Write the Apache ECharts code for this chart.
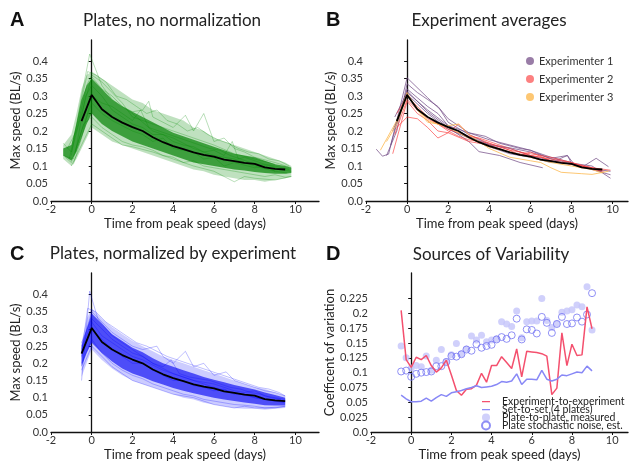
<!DOCTYPE html>
<html>
<head>
<meta charset="utf-8">
<script src="https://cdn.jsdelivr.net/npm/echarts@6/dist/echarts.min.js"></script>
<style>
  html, body { margin: 0; padding: 0; background: #fff; }
  #chart { width: 629px; height: 462px; }
</style>
</head>
<body>
<div id="chart"></div>
<script>
// ---- data ----
const xTicks = [-2, 0, 2, 4, 6, 8, 10]
const speedTicks = [0, 0.05, 0.1, 0.15, 0.2, 0.25, 0.3, 0.35, 0.4]
const cvTicks = [0, 0.025, 0.05, 0.075, 0.1, 0.125, 0.15, 0.175, 0.2, 0.225]

// overall mean (black line, same in A, B, C)
const meanTime = [-0.5, 0, 0.5, 1, 1.5, 2, 2.5, 3, 3.5, 4, 4.5, 5, 5.5, 6, 6.5, 7, 7.5, 8, 8.5, 9, 9.5]
const meanSpeed = [0.228, 0.303, 0.262, 0.240, 0.224, 0.211, 0.200, 0.182, 0.168, 0.157, 0.148, 0.139, 0.132, 0.127, 0.118, 0.114, 0.109, 0.106, 0.096, 0.092, 0.090]

// panel A: spread of the plate curves (outer envelope and dense core)
const bandTimeA = [-1.4, -1, -0.75, -0.5, -0.25, 0, 0.5, 1, 1.5, 2, 2.5, 3, 3.5, 4, 4.5, 5, 5.5, 6, 6.5, 7, 7.5, 8, 8.5, 9, 9.5, 9.8]
const outerLoA = [0.12, 0.10, 0.12, 0.15, 0.18, 0.21, 0.19, 0.17, 0.16, 0.15, 0.14, 0.13, 0.12, 0.11, 0.10, 0.09, 0.085, 0.075, 0.07, 0.065, 0.06, 0.06, 0.055, 0.06, 0.065, 0.07]
const outerHiA = [0.16, 0.19, 0.25, 0.32, 0.36, 0.37, 0.35, 0.33, 0.31, 0.29, 0.28, 0.26, 0.25, 0.24, 0.23, 0.21, 0.20, 0.18, 0.17, 0.16, 0.15, 0.14, 0.13, 0.12, 0.11, 0.10]
const innerLoA = [0.13, 0.115, 0.14, 0.18, 0.22, 0.25, 0.22, 0.20, 0.185, 0.17, 0.16, 0.15, 0.14, 0.13, 0.12, 0.11, 0.105, 0.10, 0.095, 0.09, 0.087, 0.083, 0.08, 0.078, 0.078, 0.08]
const innerHiA = [0.15, 0.16, 0.22, 0.29, 0.33, 0.35, 0.32, 0.29, 0.27, 0.255, 0.24, 0.225, 0.21, 0.195, 0.185, 0.175, 0.165, 0.155, 0.145, 0.135, 0.13, 0.125, 0.115, 0.105, 0.10, 0.095]
const platesA = [
  [[-1, 0.13], [-0.5, 0.3], [-0.1, 0.42], [0.5, 0.33], [1, 0.29], [2, 0.25], [3, 0.2], [4, 0.18], [5, 0.15], [6, 0.13], [7, 0.12], [8, 0.1], [9, 0.085]],
  [[-1.4, 0.165], [-1, 0.14], [-0.5, 0.25], [0, 0.355], [0.5, 0.32], [1, 0.3], [1.5, 0.27], [2, 0.255], [2.5, 0.26], [2.8, 0.285], [3, 0.24], [3.5, 0.225], [4, 0.21], [4.6, 0.245], [5, 0.2], [5.5, 0.25], [6, 0.17], [6.5, 0.18], [7, 0.15], [7.5, 0.14], [8, 0.125], [9, 0.11], [9.8, 0.095]],
  [[-1, 0.1], [-0.5, 0.16], [0, 0.22], [0.5, 0.2], [1, 0.18], [1.5, 0.16], [2, 0.155], [3, 0.14], [4, 0.12], [5, 0.1], [6, 0.085], [6.5, 0.07], [7, 0.055], [7.5, 0.07], [8, 0.065], [9, 0.06], [9.8, 0.07]],
  [[-1.3, 0.125], [-1, 0.11], [-0.5, 0.2], [0, 0.28], [0.5, 0.25], [1, 0.23], [2, 0.2], [2.5, 0.19], [3, 0.17], [3.5, 0.18], [4, 0.15], [5, 0.14], [5.5, 0.12], [6, 0.125], [6.5, 0.1], [7, 0.11], [8, 0.095], [8.5, 0.1], [9, 0.085], [9.6, 0.08]],
  [[-0.8, 0.14], [-0.3, 0.3], [0, 0.33], [0.5, 0.3], [1, 0.26], [1.5, 0.24], [2, 0.22], [2.5, 0.21], [3, 0.19], [3.5, 0.19], [4, 0.17], [4.5, 0.16], [5, 0.155], [5.5, 0.14], [6, 0.145], [6.5, 0.13], [6.9, 0.17], [7.2, 0.12], [7.5, 0.125], [8, 0.115], [8.5, 0.105], [9, 0.1], [9.7, 0.09]],
  [[-1.2, 0.15], [-0.75, 0.2], [-0.25, 0.33], [0, 0.36], [0.5, 0.34], [1, 0.31], [1.5, 0.28], [2, 0.24], [3, 0.22], [4, 0.2], [5, 0.18], [6, 0.16], [7, 0.135], [8, 0.12], [9, 0.105]],
  [[-1.1, 0.12], [-0.6, 0.26], [-0.2, 0.37], [0.2, 0.36], [0.7, 0.34], [1.2, 0.3], [1.7, 0.29], [2.2, 0.27], [2.7, 0.25], [3.2, 0.26], [3.7, 0.23], [4.2, 0.22], [4.7, 0.2], [5.2, 0.21], [5.7, 0.19], [6.2, 0.175], [6.7, 0.165], [7.2, 0.15], [7.7, 0.14], [8.2, 0.135], [8.7, 0.12], [9.2, 0.115], [9.7, 0.1]],
  [[-1.4, 0.13], [-0.9, 0.12], [-0.4, 0.22], [0, 0.24], [0.5, 0.21], [1, 0.19], [1.5, 0.17], [2, 0.16], [2.5, 0.155], [3, 0.145], [3.5, 0.13], [4, 0.125], [4.5, 0.11], [5, 0.115], [5.5, 0.1], [6, 0.095], [6.5, 0.09], [7, 0.085], [7.5, 0.08], [8, 0.075], [8.5, 0.07], [9, 0.075], [9.5, 0.068], [9.8, 0.07]],
  [[-0.9, 0.105], [-0.5, 0.18], [0, 0.3], [0.5, 0.28], [1, 0.27], [1.5, 0.25], [2, 0.23], [2.4, 0.26], [2.8, 0.21], [3.3, 0.2], [3.8, 0.19], [4.3, 0.18], [4.8, 0.17], [5.3, 0.16], [5.8, 0.15], [6.3, 0.145], [6.8, 0.13], [7.3, 0.12], [7.8, 0.11], [8.3, 0.105], [8.8, 0.1], [9.3, 0.09], [9.8, 0.085]]
]

// panel B: experiment averages
const exp1Lines = [
  [[-1.5, 0.148], [-1.2, 0.128], [-0.9, 0.134], [0, 0.352], [1, 0.295], [1.6, 0.262], [2, 0.225], [3, 0.19], [4, 0.162], [5, 0.152], [6, 0.14], [7, 0.122], [7.8, 0.13], [8, 0.108], [9, 0.1], [9.9, 0.065]],
  [[-1, 0.13], [-0.5, 0.2], [0, 0.335], [0.5, 0.31], [1, 0.29], [1.5, 0.27], [2, 0.235], [2.5, 0.215], [3, 0.195], [4, 0.175], [5, 0.16], [6, 0.145], [7, 0.125], [8, 0.11], [8.5, 0.096], [9.2, 0.122], [9.8, 0.098]],
  [[-0.8, 0.16], [0, 0.32], [0.5, 0.295], [1, 0.27], [1.5, 0.25], [2, 0.215], [3, 0.185], [4, 0.16], [5, 0.15], [6, 0.13], [7, 0.115], [8, 0.105], [9, 0.09], [9.9, 0.075]],
  [[-0.5, 0.22], [0, 0.315], [1, 0.255], [2, 0.21], [3, 0.17], [3.5, 0.141], [4.5, 0.13], [5.5, 0.11], [6.6, 0.095]],
  [[-0.6, 0.24], [0, 0.31], [1, 0.26], [2, 0.215], [3, 0.195], [3.8, 0.185], [4.5, 0.165], [5.5, 0.15], [6, 0.145], [7, 0.12], [7.8, 0.11], [8.5, 0.1], [9.5, 0.085]],
  [[-0.7, 0.2], [0, 0.305], [1, 0.25], [2, 0.205], [3, 0.18], [4, 0.155], [5, 0.135], [6, 0.125], [7, 0.11], [7.8, 0.13], [8.2, 0.1], [9, 0.092], [9.9, 0.085]]
]
const exp2Lines = [
  [[-0.7, 0.135], [0, 0.285], [0.5, 0.25], [1, 0.23], [1.5, 0.2], [2, 0.195], [2.5, 0.22], [3, 0.19], [4, 0.165], [5, 0.145], [5.5, 0.13], [6, 0.14], [7, 0.115], [8, 0.105], [9, 0.095], [9.9, 0.088]],
  [[-0.5, 0.21], [0, 0.24], [0.5, 0.235], [1, 0.21], [1.5, 0.18], [2, 0.195], [3, 0.17], [4, 0.16], [5, 0.14], [6, 0.13], [7, 0.12], [8, 0.11], [9, 0.09], [9.6, 0.085]],
  [[-0.6, 0.19], [0, 0.29], [0.5, 0.26], [1, 0.235], [2, 0.205], [3, 0.185], [3.5, 0.18], [4, 0.17], [5, 0.15], [6, 0.13], [6.5, 0.125], [7, 0.115], [8, 0.105], [9, 0.095], [9.5, 0.085]],
  [[-0.5, 0.25], [0, 0.3], [0.5, 0.27], [1, 0.24], [2, 0.2], [2.5, 0.185], [3, 0.175], [4, 0.165], [5, 0.145], [6, 0.135], [7, 0.125], [8, 0.11], [9, 0.095], [9.5, 0.09]]
]
const exp3Lines = [
  [[-1.3, 0.145], [-0.5, 0.23], [0, 0.31], [0.5, 0.26], [1, 0.225], [2, 0.215], [2.5, 0.22], [3, 0.19], [4, 0.15], [5, 0.125], [6, 0.115], [6.5, 0.11], [7, 0.095], [7.5, 0.082], [8.5, 0.078], [9, 0.076], [9.8, 0.085]],
  [[-1, 0.17], [-0.5, 0.22], [0, 0.3], [0.5, 0.265], [1, 0.23], [2, 0.21], [3, 0.18], [4, 0.155], [5, 0.14], [6, 0.125], [7, 0.11], [8, 0.1], [9, 0.09], [9.5, 0.08]]
]

// panel C: normalized plate curves
const bandTimeC = [-0.5, -0.25, 0, 0.5, 1, 1.5, 2, 2.5, 3, 3.5, 4, 4.5, 5, 5.5, 6, 6.5, 7, 7.5, 8, 8.5, 9, 9.5]
const outerLoC = [0.16, 0.20, 0.24, 0.21, 0.185, 0.165, 0.15, 0.14, 0.13, 0.12, 0.11, 0.10, 0.095, 0.085, 0.08, 0.075, 0.07, 0.068, 0.068, 0.065, 0.068, 0.07]
const outerHiC = [0.26, 0.33, 0.36, 0.33, 0.305, 0.285, 0.265, 0.25, 0.235, 0.22, 0.21, 0.20, 0.19, 0.18, 0.17, 0.16, 0.15, 0.14, 0.13, 0.125, 0.115, 0.105]
const innerLoC = [0.19, 0.23, 0.26, 0.23, 0.205, 0.185, 0.17, 0.16, 0.148, 0.138, 0.128, 0.12, 0.113, 0.106, 0.10, 0.095, 0.09, 0.086, 0.082, 0.078, 0.077, 0.077]
const innerHiC = [0.25, 0.30, 0.345, 0.315, 0.285, 0.265, 0.245, 0.232, 0.215, 0.20, 0.19, 0.18, 0.17, 0.16, 0.152, 0.145, 0.137, 0.13, 0.124, 0.115, 0.108, 0.10]
const platesC = [
  [[-0.5, 0.15], [-0.1, 0.41], [0.3, 0.33], [1, 0.28], [2, 0.24], [3, 0.2], [4, 0.17], [5, 0.15], [6, 0.13], [7, 0.115], [8, 0.1], [9, 0.09], [9.5, 0.085]],
  [[-0.5, 0.25], [0, 0.35], [0.5, 0.32], [1, 0.29], [1.5, 0.27], [2, 0.25], [2.5, 0.24], [3.2, 0.25], [3.5, 0.22], [4, 0.2], [4.6, 0.235], [5, 0.19], [5.5, 0.2], [6, 0.165], [6.6, 0.175], [7, 0.15], [7.5, 0.14], [8, 0.13], [8.5, 0.12], [9, 0.115], [9.5, 0.105]],
  [[-0.5, 0.18], [0, 0.25], [0.5, 0.22], [1, 0.19], [1.5, 0.17], [2, 0.15], [2.5, 0.14], [3, 0.13], [3.5, 0.12], [4, 0.11], [5, 0.1], [6, 0.08], [6.5, 0.075], [7, 0.07], [7.5, 0.075], [8, 0.07], [9, 0.07], [9.5, 0.075]],
  [[-0.5, 0.22], [0, 0.3], [0.5, 0.27], [1, 0.24], [1.5, 0.22], [2, 0.2], [2.5, 0.2], [3, 0.18], [3.5, 0.165], [4, 0.15], [4.5, 0.15], [5, 0.135], [5.5, 0.13], [6, 0.12], [6.5, 0.125], [7, 0.11], [7.5, 0.11], [8, 0.1], [8.5, 0.095], [9, 0.09], [9.5, 0.088]],
  [[-0.5, 0.24], [0, 0.32], [0.5, 0.28], [1, 0.26], [1.5, 0.24], [2, 0.22], [2.5, 0.21], [3, 0.195], [3.5, 0.18], [4, 0.17], [4.5, 0.16], [5, 0.15], [5.5, 0.145], [6, 0.14], [6.5, 0.13], [7, 0.12], [7.5, 0.115], [8, 0.12], [8.5, 0.105], [9, 0.1], [9.5, 0.095]],
  [[-0.5, 0.23], [-0.2, 0.36], [0.2, 0.35], [0.7, 0.32], [1.2, 0.3], [1.7, 0.28], [2.2, 0.26], [2.7, 0.25], [3.2, 0.235], [3.7, 0.22], [4.2, 0.21], [4.7, 0.2], [5.2, 0.19], [5.7, 0.18], [6.2, 0.17], [6.7, 0.16], [7.2, 0.15], [7.7, 0.14], [8.2, 0.13], [8.7, 0.125], [9.2, 0.115], [9.5, 0.105]],
  [[-0.5, 0.2], [0, 0.27], [0.5, 0.23], [1, 0.2], [1.5, 0.18], [2, 0.165], [2.5, 0.155], [3, 0.14], [3.5, 0.13], [4, 0.12], [4.5, 0.11], [5, 0.105], [5.5, 0.095], [6, 0.09], [6.5, 0.085], [7, 0.08], [7.5, 0.078], [8, 0.075], [8.5, 0.07], [9, 0.072], [9.5, 0.074]],
  [[-0.5, 0.26], [0, 0.33], [0.5, 0.3], [1, 0.27], [1.5, 0.25], [2, 0.23], [2.5, 0.22], [3, 0.2], [3.5, 0.19], [3.9, 0.21], [4.3, 0.17], [4.8, 0.16], [5.3, 0.155], [5.8, 0.15], [6.3, 0.14], [6.8, 0.13], [7.3, 0.125], [7.8, 0.115], [8.3, 0.11], [8.8, 0.1], [9.3, 0.095]]
]

// panel D: coefficient of variation
const cvTime = [-0.5, -0.25, 0, 0.25, 0.5, 0.75, 1, 1.25, 1.5, 1.75, 2, 2.25, 2.5, 2.75, 3, 3.25, 3.5, 3.75, 4, 4.25, 4.5, 4.75, 5, 5.25, 5.5, 5.75, 6, 6.25, 6.5, 6.75, 7, 7.25, 7.5, 7.75, 8, 8.25, 8.5, 8.75, 9]
const expCv = [0.205, 0.122, 0.109, 0.126, 0.122, 0.129, 0.112, 0.101, 0.108, 0.121, 0.096, 0.070, 0.062, 0.072, 0.073, 0.079, 0.099, 0.084, 0.112, 0.112, 0.127, 0.117, 0.107, 0.140, 0.093, 0.136, 0.135, 0.134, 0.132, 0.128, 0.063, 0.074, 0.167, 0.112, 0.148, 0.129, 0.130, 0.211, 0.174]
const setCv = [0.062, 0.056, 0.051, 0.051, 0.052, 0.057, 0.052, 0.058, 0.063, 0.060, 0.066, 0.068, 0.070, 0.073, 0.075, 0.078, 0.075, 0.076, 0.077, 0.080, 0.085, 0.084, 0.086, 0.098, 0.080, 0.089, 0.089, 0.088, 0.104, 0.089, 0.086, 0.089, 0.096, 0.095, 0.098, 0.101, 0.100, 0.111, 0.103]
const plateCv = [0.145, 0.125, 0.108, 0.112, 0.110, 0.128, 0.104, 0.121, 0.139, 0.119, 0.130, 0.149, 0.132, 0.140, 0.162, 0.155, 0.163, 0.152, 0.155, 0.157, 0.186, 0.182, 0.178, 0.204, 0.159, 0.186, 0.187, 0.187, 0.225, 0.188, 0.176, 0.183, 0.202, 0.204, 0.206, 0.214, 0.211, 0.245, 0.172]
const noiseCv = [0.102, 0.1035, 0.093, 0.098, 0.100, 0.101, 0.102, 0.111, 0.111, 0.118, 0.128, 0.127, 0.131, 0.139, 0.137, 0.148, 0.142, 0.145, 0.147, 0.156, 0.160, 0.157, 0.163, 0.191, 0.156, 0.173, 0.172, 0.166, 0.194, 0.184, 0.167, 0.182, 0.194, 0.182, 0.183, 0.193, 0.186, 0.198, 0.234]

// ---- helpers ----
const FONT = 'Lato'
const pairs = (xs, ys) => xs.map((x, i) => [x, ys[i]])
// thin horizontal line icon for the legend (tiny corner specks keep the bbox square)
const LINE_ICON = 'path://M0,4.3h10v1.5h-10Z M0,0h0.01v0.01h-0.01Z M10,10h0.01v0.01h-0.01Z'

function xAxisFor(gridIndex, max) {
  return {
    type: 'value', gridIndex, min: -2, max,
    name: 'Time from peak speed (days)', nameLocation: 'middle', nameGap: 16,
    nameTextStyle: { fontFamily: FONT, fontSize: 13, color: '#222' },
    axisLine: { lineStyle: { color: '#111', width: 1.3 } },
    axisTick: { length: 3, customValues: xTicks, lineStyle: { color: '#111' } },
    axisLabel: { customValues: xTicks, margin: 3, fontFamily: FONT, fontSize: 11, color: '#333' },
    splitLine: { show: false }
  }
}
function yAxisFor(gridIndex, max, ticks, name, gap) {
  return {
    type: 'value', gridIndex, min: 0, max,
    name, nameLocation: 'middle', nameGap: gap,
    nameTextStyle: { fontFamily: FONT, fontSize: 13, color: '#222' },
    axisLine: { show: true, lineStyle: { color: '#111', width: 1.3 } },
    axisTick: { show: true, length: 3, customValues: ticks, lineStyle: { color: '#111' } },
    axisLabel: {
      customValues: ticks, margin: 3, fontFamily: FONT, fontSize: 11, color: '#333',
      formatter: v => (v === 0 ? '0.0' : String(v))
    },
    splitLine: { show: false }
  }
}
function thinLine(idx, data, color, width, name) {
  return {
    type: 'line', name, xAxisIndex: idx, yAxisIndex: idx, data,
    symbol: 'none', silent: true,
    itemStyle: { color },
    lineStyle: { color, width }
  }
}
// filled band between lo and hi, drawn as one polygon through the axes
function band(idx, xs, lo, hi, color) {
  return {
    type: 'custom', xAxisIndex: idx, yAxisIndex: idx, silent: true,
    data: xs.map((x, i) => [x, lo[i], hi[i]]),
    encode: { x: 0, y: [1, 2] },
    renderItem(params, api) {
      if (params.dataIndex !== 0) return null
      const top = xs.map((x, i) => api.coord([x, hi[i]]))
      const bottom = xs.map((x, i) => api.coord([x, lo[i]])).reverse()
      return { type: 'polygon', shape: { points: top.concat(bottom) }, style: { fill: color } }
    }
  }
}

const meanData = pairs(meanTime, meanSpeed)
const series = []

// A
series.push(band(0, bandTimeA, outerLoA, outerHiA, 'rgba(0,135,0,0.25)'))
series.push(band(0, bandTimeA, innerLoA, innerHiA, 'rgba(0,128,0,0.68)'))
platesA.forEach(p => series.push(thinLine(0, p, 'rgba(0,140,0,0.35)', 0.8)))
series.push(thinLine(0, meanData, '#000', 1.8))

// B
exp1Lines.forEach(p => series.push(thinLine(1, p, 'rgba(110,70,130,0.7)', 1, 'Experimenter 1')))
exp2Lines.forEach(p => series.push(thinLine(1, p, 'rgba(250,60,60,0.65)', 1, 'Experimenter 2')))
exp3Lines.forEach(p => series.push(thinLine(1, p, 'rgba(253,185,80,0.8)', 1, 'Experimenter 3')))
series.push(thinLine(1, meanData, '#000', 1.8))

// C
series.push(band(2, bandTimeC, outerLoC, outerHiC, 'rgba(0,0,255,0.2)'))
series.push(band(2, bandTimeC, innerLoC, innerHiC, 'rgba(10,10,245,0.66)'))
platesC.forEach(p => series.push(thinLine(2, p, 'rgba(0,0,255,0.32)', 0.8)))
series.push(thinLine(2, meanData, '#000', 1.8))

// D
series.push({
  type: 'scatter', name: 'Plate-to-plate, measured', xAxisIndex: 3, yAxisIndex: 3,
  data: pairs(cvTime, plateCv), symbolSize: 7, silent: true,
  itemStyle: { color: '#c4c4fa' }
})
series.push({
  type: 'scatter', name: 'Plate stochastic noise, est.', xAxisIndex: 3, yAxisIndex: 3,
  data: pairs(cvTime, noiseCv), symbolSize: 7, silent: true,
  itemStyle: { color: 'rgba(255,255,255,0)', borderColor: '#7474f2', borderWidth: 1 }
})
series.push(thinLine(3, pairs(cvTime, expCv), '#f4506e', 1.5, 'Experiment-to-experiment'))
series.push(thinLine(3, pairs(cvTime, setCv), '#8888f6', 1.5, 'Set-to-set (4 plates)'))

const titleStyle = { fontFamily: FONT, fontSize: 17, fontWeight: 'normal', color: '#222' }
const letterStyle = { fontFamily: 'Liberation Sans', fontSize: 20, fontWeight: 'bold', color: '#111' }

const myChart = echarts.init(document.getElementById('chart'))
myChart.setOption({
  animation: false,
  backgroundColor: '#fff',
  title: [
    { text: 'A', left: 10, top: 10, padding: 0, textStyle: letterStyle },
    { text: 'B', left: 326, top: 10, padding: 0, textStyle: letterStyle },
    { text: 'C', left: 10, top: 244, padding: 0, textStyle: letterStyle },
    { text: 'D', left: 326, top: 244, padding: 0, textStyle: letterStyle },
    { text: 'Plates, no normalization', left: 172, top: 12, padding: 0, textAlign: 'center', textStyle: titleStyle },
    { text: 'Experiment averages', left: 489, top: 12, padding: 0, textAlign: 'center', textStyle: titleStyle },
    { text: 'Plates, normalized by experiment', left: 173, top: 245, padding: 0, textAlign: 'center', textStyle: titleStyle },
    { text: 'Sources of Variability', left: 491, top: 246, padding: 0, textAlign: 'center', textStyle: titleStyle }
  ],
  legend: [
    {
      data: ['Experimenter 1', 'Experimenter 2', 'Experimenter 3'],
      orient: 'vertical', left: 526, top: 55, icon: 'circle',
      itemWidth: 8, itemHeight: 8, itemGap: 6, padding: 0,
      textStyle: { fontFamily: FONT, fontSize: 11, color: '#333', lineHeight: 12 }
    },
    {
      data: [
        { name: 'Experiment-to-experiment', icon: LINE_ICON },
        { name: 'Set-to-set (4 plates)', icon: LINE_ICON },
        { name: 'Plate-to-plate, measured', icon: 'circle' },
        { name: 'Plate stochastic noise, est.', icon: 'circle' }
      ],
      orient: 'vertical', left: 481, top: 396, itemWidth: 10, itemHeight: 8, itemGap: -3, padding: 0,
      textStyle: { fontFamily: FONT, fontSize: 10.5, color: '#222', padding: [0, 0, 0, 6] }
    }
  ],
  grid: [
    { left: 51, top: 40, width: 268, height: 161 },
    { left: 366, top: 40, width: 262, height: 161 },
    { left: 51, top: 273, width: 268, height: 161 },
    { left: 371, top: 273, width: 257, height: 159 }
  ],
  xAxis: [xAxisFor(0, 11.16), xAxisFor(1, 10.75), xAxisFor(2, 11.16), xAxisFor(3, 10.79)],
  yAxis: [
    yAxisFor(0, 0.46, speedTicks, 'Max speed (BL/s)', 25),
    yAxisFor(1, 0.46, speedTicks, 'Max speed (BL/s)', 28),
    yAxisFor(2, 0.463, speedTicks, 'Max speed (BL/s)', 25),
    yAxisFor(3, 0.268, cvTicks, 'Coefficent of variation', 31)
  ],
  series
})
</script>
</body>
</html>
